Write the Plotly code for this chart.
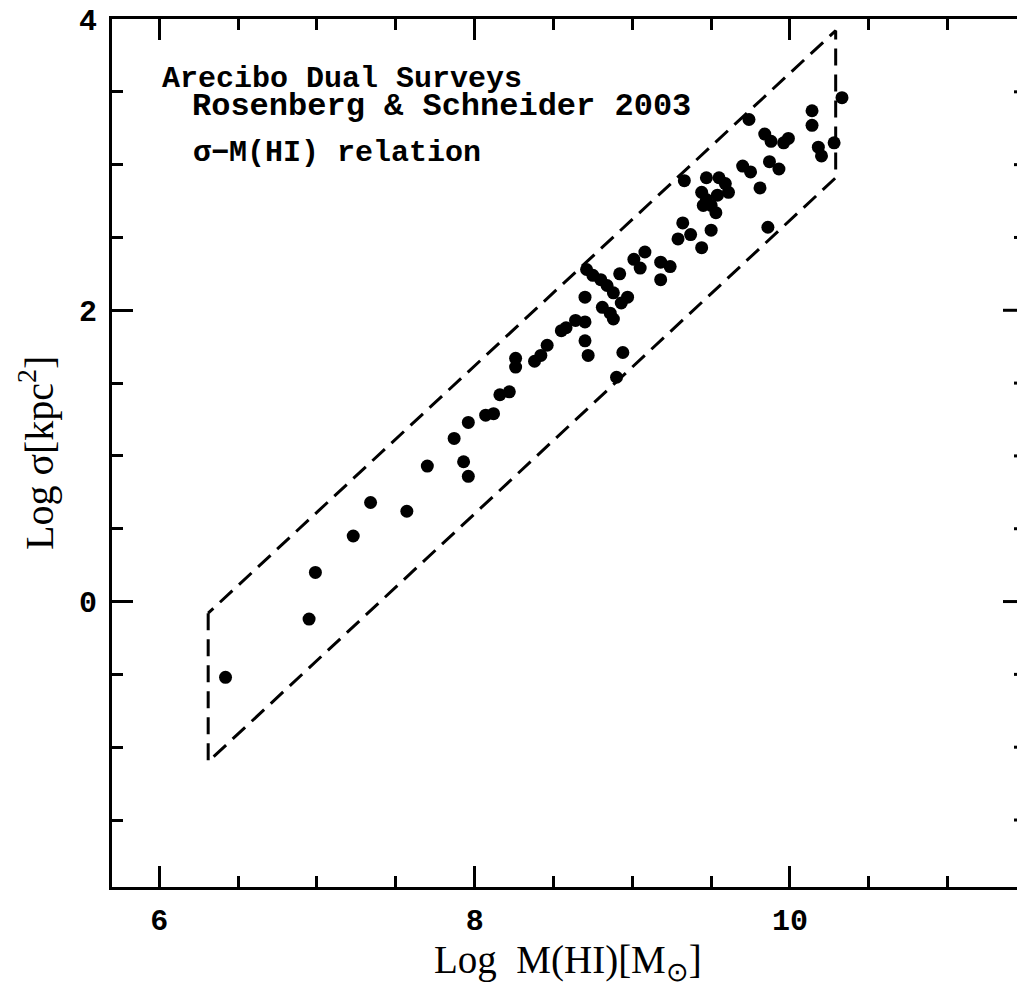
import plotly.graph_objects as go

# ---- data ----
log_mhi = [6.42, 6.95, 6.99, 7.23, 7.34, 7.57, 7.70, 7.87, 7.93, 7.96, 7.96,
           8.07, 8.12, 8.16, 8.22, 8.26, 8.26, 8.38, 8.42, 8.46, 8.55, 8.58, 8.64,
           8.70, 8.70, 8.72, 8.71, 8.70, 8.80, 8.84, 8.88, 8.81, 8.86, 8.88, 8.92,
           8.97, 8.94, 8.90, 9.01, 9.08, 9.05, 9.18, 9.24, 9.18, 8.93, 8.75,
           9.29, 9.32, 9.37, 9.44, 9.50, 9.33, 9.47, 9.55, 9.59, 9.61, 9.44,
           9.47, 9.50, 9.45, 9.54, 9.53, 9.70, 9.75, 9.81, 9.87, 9.93, 9.74,
           9.84, 9.88, 9.96, 9.99, 9.86, 10.14, 10.14, 10.28, 10.18, 10.20, 10.33]
log_sigma = [-0.52, -0.12, 0.20, 0.45, 0.68, 0.62, 0.93, 1.12, 0.96, 0.86, 1.23,
             1.28, 1.29, 1.42, 1.44, 1.67, 1.61, 1.65, 1.69, 1.76, 1.86, 1.88, 1.93,
             1.92, 1.79, 1.69, 2.28, 2.09, 2.21, 2.17, 2.12, 2.02, 1.98, 1.94, 2.25,
             2.09, 1.71, 1.54, 2.35, 2.40, 2.29, 2.33, 2.30, 2.21, 2.05, 2.24,
             2.49, 2.60, 2.52, 2.43, 2.55, 2.89, 2.91, 2.91, 2.87, 2.81, 2.81,
             2.76, 2.72, 2.72, 2.79, 2.67, 2.99, 2.95, 2.84, 3.02, 2.97, 3.31,
             3.21, 3.16, 3.15, 3.18, 2.57, 3.37, 3.27, 3.15, 3.12, 3.06, 3.46]

# dashed parallelogram envelope
box_x = [6.31, 6.31, 10.29, 10.29, 6.31]
box_y = [-0.08, -1.10, 2.91, 3.92, -0.08]

x_range = [5.70, 11.44]
y_range = [-1.96, 4.0]
x_ticks = [6, 8, 10]
y_ticks = [0, 2, 4]
y_minor = [-1.5, -1.0, -0.5, 0.0, 0.5, 1.0, 1.5, 2.0, 2.5, 3.0, 3.5]

text_lines = ["Arecibo Dual Surveys", "Rosenberg & Schneider 2003", "σ−M(HI) relation"]

W, H = 1017, 986
ML, MR, MT, MB = 112, 0, 19, 99
PW, PH = W - ML - MR, H - MT - MB

def px(xp):
    return (xp - ML) / PW

def py(yp):
    return (H - MB - yp) / PH

fig = go.Figure()
fig.add_trace(go.Scatter(x=box_x, y=box_y, mode="lines",
                         line=dict(color="black", width=3, dash="17px,9px"),
                         hoverinfo="skip", showlegend=False))
fig.add_trace(go.Scatter(x=log_mhi, y=log_sigma, mode="markers",
                         marker=dict(color="black", size=13, line=dict(width=0)),
                         showlegend=False))

tickfont = dict(family="Liberation Mono", size=30, color="black", weight="bold")

fig.update_xaxes(range=x_range, tickvals=x_ticks, ticktext=[str(v) for v in x_ticks],
                 ticks="inside", ticklen=21, tickwidth=3, tickcolor="black",
                 minor=dict(dtick=0.5, tick0=0, ticks="inside", ticklen=11, tickwidth=3, tickcolor="black"),
                 showline=True, linewidth=3, linecolor="black", mirror="ticks",
                 showgrid=False, zeroline=False, tickfont=tickfont, ticklabelstandoff=4)
fig.update_yaxes(range=y_range, tickvals=y_ticks, ticktext=[str(v) for v in y_ticks],
                 ticks="inside", ticklen=21, tickwidth=3, tickcolor="black",
                 minor=dict(dtick=0.5, tick0=0, ticks="inside", ticklen=11, tickwidth=3, tickcolor="black"),
                 showline=True, linewidth=3, linecolor="black", mirror=False,
                 showgrid=False, zeroline=False, tickfont=tickfont, ticklabelstandoff=6)

# right-hand ticks of the (cropped) right frame
right_axis = px(1025)
shapes = []
for v in y_minor:
    major = abs(v - round(v / 2) * 2) < 1e-9
    length = 22 if major else 11
    shapes.append(dict(type="line", xref="paper", yref="y",
                       x0=right_axis, x1=right_axis - length / PW, y0=v, y1=v,
                       line=dict(color="black", width=3)))

annotations = [
    dict(text=text_lines[0], x=px(160), y=py(79), xanchor="left", yanchor="middle",
         font=dict(family="Liberation Mono", size=30, color="black", weight="bold")),
    dict(text=text_lines[1], x=px(190), y=py(106), xanchor="left", yanchor="middle",
         font=dict(family="Liberation Mono", size=32, color="black", weight="bold")),
    dict(text=text_lines[2], x=px(191), y=py(153), xanchor="left", yanchor="middle",
         font=dict(family="Liberation Mono", size=30, color="black", weight="bold")),
    dict(text="Log  M(HI)[M<sub>⊙</sub>]", x=px(568), y=py(962), xanchor="center", yanchor="middle",
         font=dict(family="Liberation Serif", size=39, color="black")),
    dict(text="Log σ[kpc<sup>2</sup>]", x=px(36), y=0.5, xanchor="center", yanchor="middle",
         textangle=-90, font=dict(family="Liberation Serif", size=40, color="black")),
]
for a in annotations:
    a.update(xref="paper", yref="paper", showarrow=False)

fig.update_layout(width=W, height=H, margin=dict(l=ML, r=MR, t=MT, b=MB),
                  plot_bgcolor="white", paper_bgcolor="white",
                  shapes=shapes, annotations=annotations, showlegend=False)

fig.write_html("out.html")
